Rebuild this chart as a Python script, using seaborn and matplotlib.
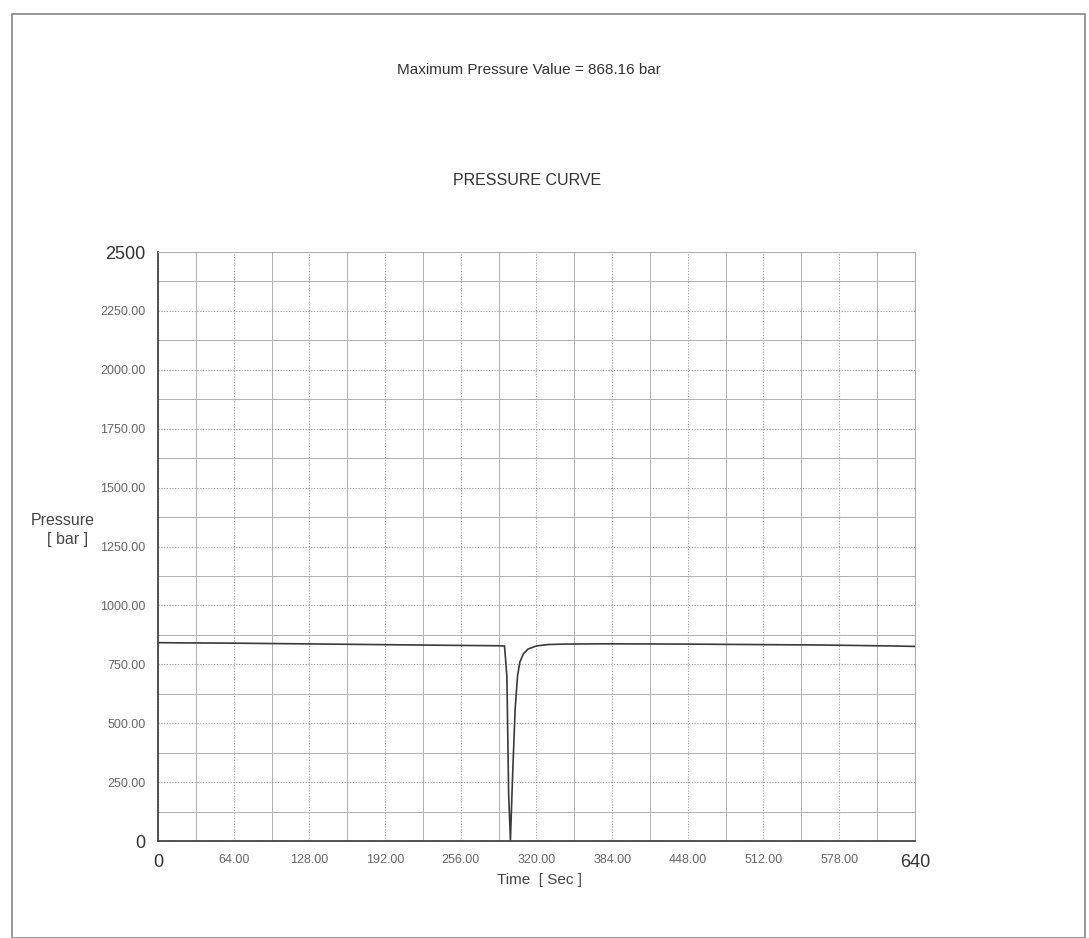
import matplotlib
matplotlib.use("Agg")
import matplotlib.pyplot as plt
import seaborn as sns
import pandas as pd
from matplotlib.patches import Rectangle

# pressure trace
time_s = [0, 20, 60, 100, 140, 180, 220, 260, 285, 293, 295, 296.5, 298,
          300, 302, 304, 306, 309, 313, 320, 330, 345, 380, 440, 500, 560, 620, 640]
pressure_bar = [842, 841, 840, 838, 836, 834, 832, 830, 829, 828, 700, 200, 5,
                300, 560, 700, 760, 795, 815, 828, 834, 836, 837, 836, 834, 832, 828, 826]

x_ticks = [0, 64, 128, 192, 256, 320, 384, 448, 512, 576, 640]
x_labels = ["0", "64.00", "128.00", "192.00", "256.00", "320.00", "384.00",
            "448.00", "512.00", "578.00", "640"]
y_ticks = [0, 250, 500, 750, 1000, 1250, 1500, 1750, 2000, 2250, 2500]
y_labels = ["0", "250.00", "500.00", "750.00", "1000.00", "1250.00", "1500.00",
            "1750.00", "2000.00", "2250.00", "2500"]

df = pd.DataFrame({"time": time_s, "pressure": pressure_bar})

sns.set_style("white")
plt.rcParams['font.family'] = ['Liberation Sans', 'DejaVu Sans']

fig = plt.figure(figsize=(10.89, 9.38), dpi=100)
ax = fig.add_axes([0.1451, 0.1034, 0.695, 0.6279])

sns.lineplot(data=df, x="time", y="pressure", ax=ax, color="#3a3a3a", linewidth=1.2)

ax.set_xlim(0, 640)
ax.set_ylim(0, 2500)
ax.set_xticks(x_ticks)
ax.set_yticks(y_ticks)
ax.set_xticklabels(x_labels)
ax.set_yticklabels(y_labels)
ax.set_xticks([32 + 64 * i for i in range(10)], minor=True)
ax.set_yticks([125 + 250 * i for i in range(10)], minor=True)

for lbl in ax.get_xticklabels() + ax.get_yticklabels():
    lbl.set_fontsize(9)
    lbl.set_color("#666666")
for lbl in [ax.get_xticklabels()[0], ax.get_xticklabels()[-1],
            ax.get_yticklabels()[0], ax.get_yticklabels()[-1]]:
    lbl.set_fontsize(13)
    lbl.set_color("#333333")

ax.tick_params(axis="both", which="major", length=4, width=0.8, color="#555555", pad=5, direction="out")
ax.tick_params(axis="both", which="minor", length=0)
ax.grid(True, which="major", color="#9a9a9a", linestyle=(0, (1, 1.5)), linewidth=0.8)
ax.grid(True, which="minor", color="#b0b0b0", linestyle="-", linewidth=0.7)

for side in ["left", "bottom"]:
    ax.spines[side].set_color("#444444")
    ax.spines[side].set_linewidth(1.3)
for side in ["top", "right"]:
    ax.spines[side].set_color("#aaaaaa")
    ax.spines[side].set_linewidth(0.7)

ax.set_xlabel("")
ax.set_ylabel("")

fig.text(0.486, 0.925, "Maximum Pressure Value = 868.16 bar", ha="center", va="center",
         fontsize=11, color="#333333")
fig.text(0.484, 0.808, "PRESSURE CURVE", ha="center", va="center", fontsize=11.5, color="#333333")
fig.text(0.058, 0.435, "Pressure\n  [ bar ]", ha="center", va="center", fontsize=11.5,
         color="#444444", linespacing=1.35)
fig.text(0.495, 0.062, "Time  [ Sec ]", ha="center", va="center", fontsize=11, color="#444444")

# page border of the scanned sheet
fig.patches.append(Rectangle((0.011, 0.0), 0.985, 0.985, transform=fig.transFigure,
                             fill=False, edgecolor="#888888", linewidth=1.2))

fig.savefig("out.png", dpi=100, facecolor="white")
